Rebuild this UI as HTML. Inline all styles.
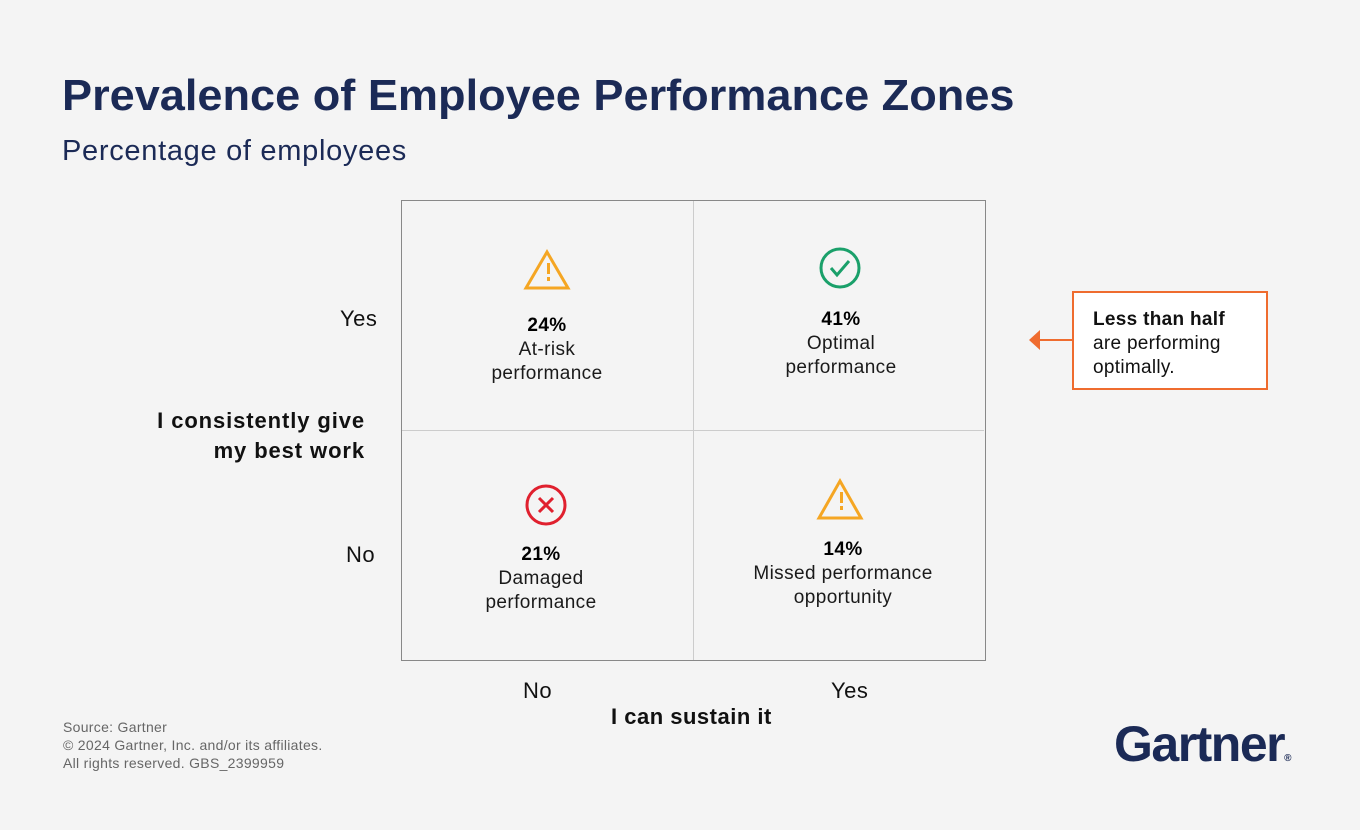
<!DOCTYPE html>
<html><head><meta charset="utf-8"><style>
body{margin:0;width:1360px;height:830px;background:#f4f4f4;font-family:"Liberation Sans",sans-serif;position:relative;overflow:hidden;color:#111}
.a{position:absolute;white-space:nowrap}
.c{position:absolute;text-align:center;transform:translateX(-50%);font-size:19px;line-height:24px;white-space:nowrap;color:#1a1a1a;letter-spacing:0.4px}
.c b{font-weight:bold;color:#000}
</style></head><body>
<div class="a" style="left:62px;top:71px;font-size:44px;font-weight:bold;color:#1b2a56;letter-spacing:0;transform:scaleX(1.025);transform-origin:left">Prevalence of Employee Performance Zones</div>
<div class="a" style="left:62px;top:135px;font-size:29px;color:#1b2a56;letter-spacing:0.7px">Percentage of employees</div>

<div class="a" style="left:401px;top:200px;width:585px;height:461px;border:1.5px solid #888;box-sizing:border-box"></div>
<div class="a" style="left:693px;top:201px;width:1px;height:459px;background:#ccc"></div>
<div class="a" style="left:402px;top:430px;width:582px;height:1px;background:#ccc"></div>

<svg class="a" style="left:0;top:0" width="1360" height="830">
<g fill="none" stroke-width="3">
<path d="M547 252 L568 288 L526 288 Z" stroke="#f5a623" stroke-linejoin="miter"/>
<path d="M840 481 L861 518 L819 518 Z" stroke="#f5a623"/>
<circle cx="840" cy="268" r="19" stroke="#1aa06a"/>
<path d="M831 268 L837 275 L849 261" stroke="#1aa06a"/>
<circle cx="546" cy="505" r="19" stroke="#e0202e"/>
<path d="M539 498 L553 512 M553 498 L539 512" stroke="#e0202e"/>
<path d="M1037 340 L1072 340" stroke="#ef6c2f" stroke-width="2"/>
</g>
<rect x="547" y="263" width="3" height="11" fill="#f5a623"/><rect x="547" y="277" width="3" height="4" fill="#f5a623"/>
<rect x="840" y="492" width="3" height="11" fill="#f5a623"/><rect x="840" y="506" width="3" height="4" fill="#f5a623"/>
<path d="M1029 340 L1040 330 L1040 350 Z" fill="#ef6c2f"/>
</svg>

<div class="c" style="left:547px;top:314px"><b>24%</b><br>At-risk<br>performance</div>
<div class="c" style="left:841px;top:308px"><b>41%</b><br>Optimal<br>performance</div>
<div class="c" style="left:541px;top:543px"><b>21%</b><br>Damaged<br>performance</div>
<div class="c" style="left:843px;top:538px"><b>14%</b><br>Missed performance<br>opportunity</div>

<div class="a" style="left:340px;top:306px;font-size:22px;letter-spacing:0.5px">Yes</div>
<div class="a" style="left:346px;top:542px;font-size:22px;letter-spacing:0.5px">No</div>
<div class="a" style="left:100px;top:406px;width:265px;text-align:right;font-size:22px;font-weight:bold;line-height:30px;letter-spacing:0.9px">I consistently give<br>my best work</div>
<div class="a" style="left:523px;top:678px;font-size:22px;letter-spacing:0.5px">No</div>
<div class="a" style="left:831px;top:678px;font-size:22px;letter-spacing:0.5px">Yes</div>
<div class="a" style="left:611px;top:704px;font-size:22px;font-weight:bold;letter-spacing:0.5px">I can sustain it</div>

<div class="a" style="left:1072px;top:291px;width:196px;height:99px;background:#fff;border:2px solid #ef6c2f;box-sizing:border-box;padding:15px 0 0 19px;font-size:19px;line-height:24px;color:#111;letter-spacing:0.3px"><b>Less than half</b><br>are performing<br>optimally.</div>

<div class="a" style="left:63px;top:718px;font-size:14px;line-height:18px;color:#666;letter-spacing:0.3px">Source: Gartner<br>© 2024 Gartner, Inc. and/or its affiliates.<br>All rights reserved. GBS_2399959</div>
<div class="a" style="left:1114px;top:715px;font-size:50px;font-weight:bold;color:#1b2a56;letter-spacing:-1.5px">Gartner<span style="font-size:10px;letter-spacing:0">®</span></div>
</body></html>
